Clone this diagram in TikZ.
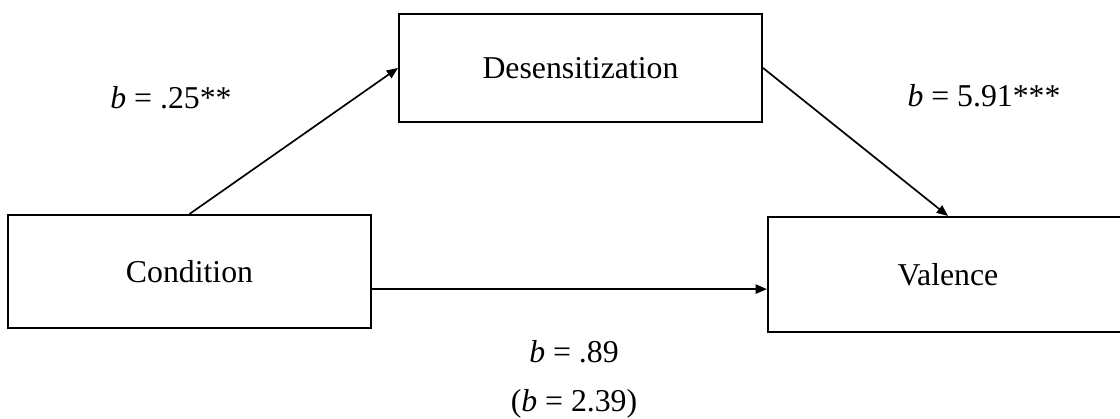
\documentclass[tikz,border=0pt]{standalone}
\usepackage{fontspec}
\setmainfont{Liberation Serif}
\usepackage{tikz}
\usetikzlibrary{arrows.meta}
\tikzset{
  varbox/.style={draw,line width=1.4pt,minimum width=9.075cm,minimum height=2.75cm,inner sep=0pt,font=\fontsize{22.6}{26}\selectfont},
  patharr/.style={line width=1.2pt,-{Triangle[length=8pt,width=6.5pt]}},
  coef/.style={anchor=base,font=\fontsize{22.6}{26}\selectfont}
}
\begin{document}
\begin{tikzpicture}[x=0.025cm,y=0.025cm]
\useasboundingbox(0,0)rectangle(1120,419);
%boxes
\node[varbox,minimum height=2.7cm](desens)at(580.5,351){Desensitization};
\node[varbox,minimum height=2.825cm](cond)at(189.5,147.5){Condition};
\node[varbox,minimum width=9cm,minimum height=2.875cm](val)at(948,144.5){Valence};
%paths
\draw[patharr](cond.north)--(desens.west);
\draw[patharr](desens.east)--(val.north);
\draw[patharr]([yshift=-0.44cm]cond.east)--([yshift=-0.44cm]cond.east-|val.west);
%labels
\node[coef](ca)at(171,310){\textit{b} = .25**};
\node[coef](cb)at(984,312){\textit{b} = 5.91***};
\node[coef](cc)at(574,56){\textit{b} = .89};
\node[coef](cd)at(574,7){(\textit{b} = 2.39)};
\end{tikzpicture}
\end{document}
